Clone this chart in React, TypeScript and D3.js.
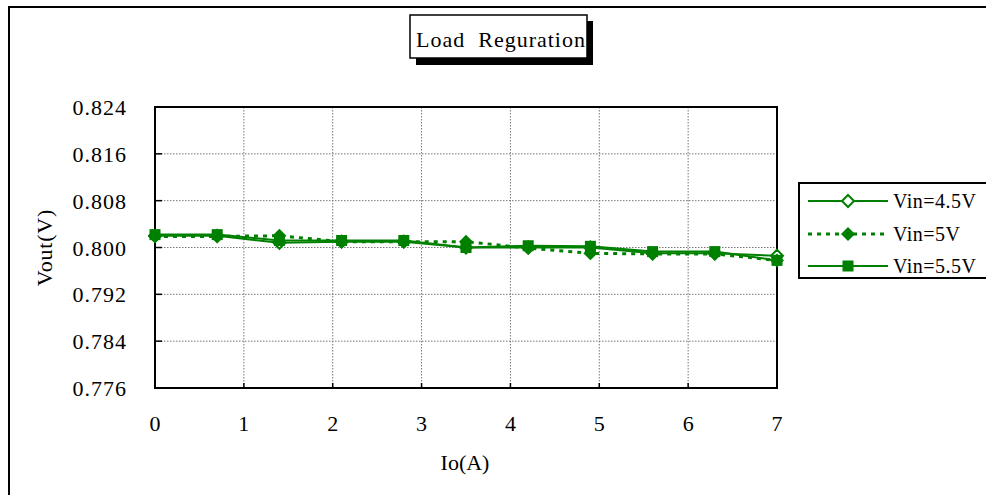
import React from "react";
import * as d3 from "d3";

const ioValues = [0, 0.7, 1.4, 2.1, 2.8, 3.5, 4.2, 4.9, 5.6, 6.3, 7.0];
const vin45 = [0.802, 0.802, 0.8008, 0.801, 0.801, 0.8, 0.8, 0.8, 0.799, 0.799, 0.7986];
const vin5 = [0.8019, 0.8019, 0.802, 0.8010, 0.8010, 0.8010, 0.7999, 0.799, 0.7989, 0.7989, 0.7978];
const vin55 = [0.8022, 0.8022, 0.8012, 0.8012, 0.8012, 0.8, 0.8003, 0.8002, 0.7993, 0.7993, 0.7978];
const xTicks = [0, 1, 2, 3, 4, 5, 6, 7];
const yTicks = [0.776, 0.784, 0.792, 0.8, 0.808, 0.816, 0.824];
const seriesNames = ["Vin=4.5V", "Vin=5V", "Vin=5.5V"];
const titleText = "Load  Reguration";
const xTitle = "Io(A)";
const yTitle = "Vout(V)";

const GREEN = "#008000";
const FONT = "'Liberation Serif', 'Times New Roman', serif";

type Marker = "hollowDiamond" | "diamond" | "square";

function MarkerShape({ kind, x, y }: { kind: Marker; x: number; y: number }) {
  if (kind === "square") {
    return <rect x={x - 5.5} y={y - 5.5} width={11} height={11} fill={GREEN} />;
  }
  const r = kind === "diamond" ? 7 : 6;
  const pts = `${x},${y - r} ${x + r},${y} ${x},${y + r} ${x - r},${y}`;
  if (kind === "diamond") return <polygon points={pts} fill={GREEN} />;
  return <polygon points={pts} fill="#fff" stroke={GREEN} strokeWidth={2} />;
}

export default function App() {
  const W = 986;
  const H = 495;
  const left = 155, right = 777, top = 107, bottom = 388;
  const x = d3.scaleLinear().domain([0, 7]).range([left, right]);
  const y = d3.scaleLinear().domain([0.776, 0.824]).range([bottom, top]);

  const series: { name: string; values: number[]; marker: Marker; dash?: string; sw: number }[] = [
    { name: seriesNames[0], values: vin45, marker: "hollowDiamond", sw: 2 },
    { name: seriesNames[1], values: vin5, marker: "diamond", dash: "4,5", sw: 3 },
    { name: seriesNames[2], values: vin55, marker: "square", sw: 2 },
  ];

  const line = d3
    .line<[number, number]>()
    .x((d) => x(d[0]))
    .y((d) => y(d[1]));

  const legendY = [201, 234, 266];

  return (
    <svg
      width={W}
      height={H}
      style={{ position: "absolute", left: 0, top: 0, background: "#fff" }}
      fontFamily={FONT}
    >
      <rect x={0} y={0} width={W} height={H} fill="#fff" />
      {/* outer chart border */}
      <rect x={9} y={7} width={1000} height={520} fill="none" stroke="#000" strokeWidth={2} />

      {/* title with shadow */}
      <rect x={416} y={21} width={177} height={44} fill="#000" />
      <rect x={410} y={15} width={177} height={43} fill="#fff" stroke="#000" strokeWidth={1.5} />
      <text x={416} y={47} fontSize={22} letterSpacing={1} style={{ whiteSpace: "pre" }}>
        {titleText}
      </text>

      {/* gridlines */}
      {yTicks.slice(1, -1).map((t) => (
        <line key={"gy" + t} x1={left} x2={right} y1={y(t)} y2={y(t)} stroke="#777" strokeWidth={1} strokeDasharray="1.5,1.5" />
      ))}
      {xTicks.slice(1, -1).map((t) => (
        <line key={"gx" + t} x1={x(t)} x2={x(t)} y1={top} y2={bottom} stroke="#777" strokeWidth={1} strokeDasharray="1.5,1.5" />
      ))}

      {/* plot border */}
      <rect x={left} y={top} width={right - left} height={bottom - top} fill="none" stroke="#000" strokeWidth={2} />

      {/* ticks */}
      {yTicks.map((t) => (
        <line key={"ty" + t} x1={left} x2={left + 7} y1={y(t)} y2={y(t)} stroke="#000" strokeWidth={1.5} />
      ))}
      {xTicks.map((t) => (
        <line key={"tx" + t} x1={x(t)} x2={x(t)} y1={bottom} y2={bottom - 5} stroke="#000" strokeWidth={1.5} />
      ))}

      {/* tick labels */}
      {yTicks.map((t) => (
        <text key={"ly" + t} x={127} y={y(t) + 8} fontSize={22} letterSpacing={1} textAnchor="end">
          {d3.format(".3f")(t)}
        </text>
      ))}
      {xTicks.map((t) => (
        <text key={"lx" + t} x={x(t)} y={431} fontSize={22} textAnchor="middle">
          {t}
        </text>
      ))}

      {/* axis titles */}
      <text x={465} y={470} fontSize={22} textAnchor="middle">{xTitle}</text>
      <text
        transform={`translate(52,${(top + bottom) / 2}) rotate(-90)`}
        fontSize={22}
        letterSpacing={0.8}
        textAnchor="middle"
      >
        {yTitle}
      </text>

      {/* series */}
      {series.map((s) => {
        const pts = ioValues.map((io, i) => [io, s.values[i]] as [number, number]);
        return (
          <g key={s.name}>
            <path d={line(pts) || ""} fill="none" stroke={GREEN} strokeWidth={s.sw} strokeDasharray={s.dash} />
            {pts.map((p, i) => (
              <MarkerShape key={i} kind={s.marker} x={x(p[0])} y={y(p[1])} />
            ))}
          </g>
        );
      })}

      {/* legend */}
      <rect x={799} y={183} width={200} height={95} fill="#fff" stroke="#000" strokeWidth={2} />
      {series.map((s, i) => (
        <g key={"lg" + s.name}>
          <line x1={808} x2={888} y1={legendY[i]} y2={legendY[i]} stroke={GREEN} strokeWidth={s.sw} strokeDasharray={s.dash} />
          <MarkerShape kind={s.marker} x={848} y={legendY[i]} />
          <text x={893} y={legendY[i] + 7} fontSize={20} letterSpacing={0.5}>
            {s.name}
          </text>
        </g>
      ))}
    </svg>
  );
}
